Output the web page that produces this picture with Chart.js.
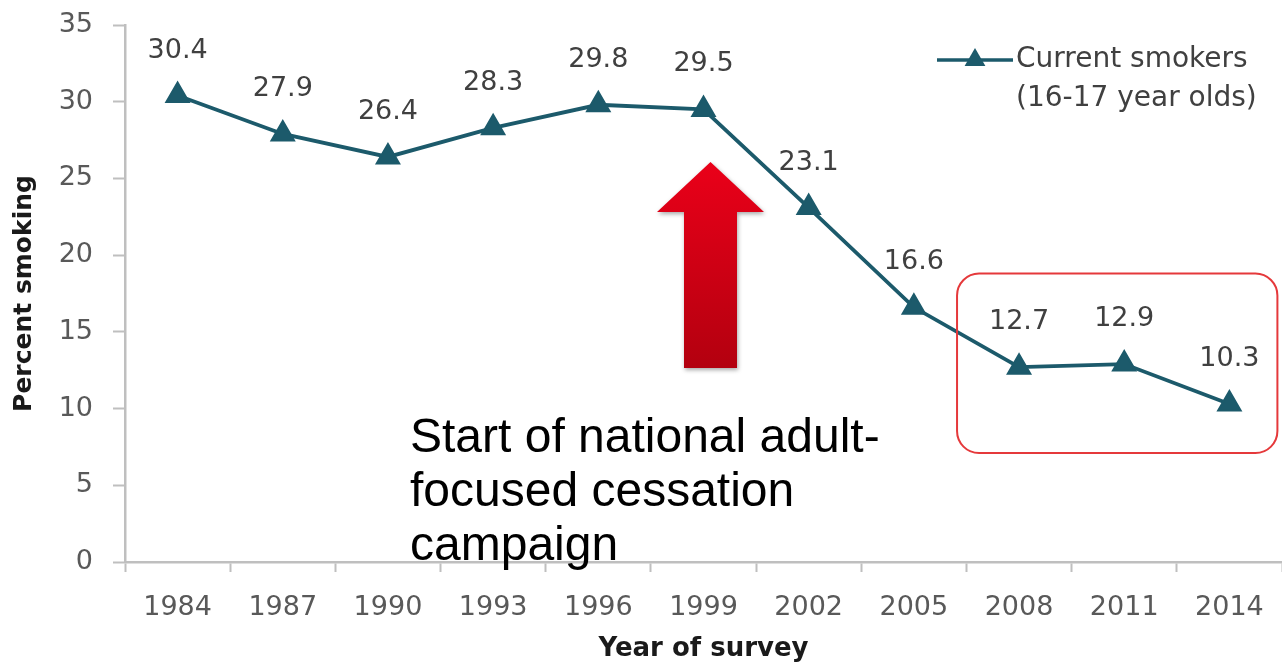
<!DOCTYPE html>
<html>
<head>
<meta charset="utf-8">
<title>Current smokers (16-17 year olds)</title>
<script src="https://cdn.jsdelivr.net/npm/chart.js@4.4.1/dist/chart.umd.min.js"></script>
<style>
  html, body { margin: 0; padding: 0; background: #ffffff; }
  #wrap { width: 1282px; height: 670px; position: relative; }
</style>
</head>
<body>
<div id="wrap"><canvas id="chart" width="1282" height="670"></canvas></div>
<script>
// Survey years and share of 16-17 year olds who currently smoke (%)
const surveyYears = ['1984', '1987', '1990', '1993', '1996', '1999', '2002', '2005', '2008', '2011', '2014'];
const currentSmokers = [30.4, 27.9, 26.4, 28.3, 29.8, 29.5, 23.1, 16.6, 12.7, 12.9, 10.3];
const yTickValues = [0, 5, 10, 15, 20, 25, 30, 35];
const seriesLabel = ['Current smokers', '(16-17 year olds)'];
const campaignNote = ['Start of national adult-', 'focused cessation', 'campaign'];
const campaignYear = '1999';
const highlightYears = ['2008', '2014'];

const LINE_COLOR = '#1c5a6b';
const TICK_COLOR = '#595959';
const LABEL_COLOR = '#404040';
const AXIS_COLOR = '#bfbfbf';
const FONT = '"DejaVu Sans", sans-serif';

function roundRect(ctx, x, y, w, h, r) {
  ctx.beginPath();
  ctx.moveTo(x + r, y);
  ctx.lineTo(x + w - r, y);
  ctx.arcTo(x + w, y, x + w, y + r, r);
  ctx.lineTo(x + w, y + h - r);
  ctx.arcTo(x + w, y + h, x + w - r, y + h, r);
  ctx.lineTo(x + r, y + h);
  ctx.arcTo(x, y + h, x, y + h - r, r);
  ctx.lineTo(x, y + r);
  ctx.arcTo(x, y, x + r, y, r);
  ctx.closePath();
}

// Value labels above each point, the legend, and the annotations
const decorations = {
  id: 'decorations',
  afterDatasetsDraw(chart) {
    const ctx = chart.ctx;
    const xs = chart.scales.x;
    const ys = chart.scales.y;
    const meta = chart.getDatasetMeta(0);

    // value labels
    ctx.save();
    ctx.font = '27px ' + FONT;
    ctx.fillStyle = LABEL_COLOR;
    ctx.textAlign = 'center';
    ctx.textBaseline = 'middle';
    meta.data.forEach((pt, i) => {
      ctx.fillText(currentSmokers[i].toFixed(1), pt.x, pt.y - 45);
    });
    ctx.restore();

    // legend
    ctx.save();
    const lx0 = 937, lx1 = 1013, ly = 60;
    ctx.strokeStyle = LINE_COLOR;
    ctx.lineWidth = 3.5;
    ctx.beginPath();
    ctx.moveTo(lx0, ly);
    ctx.lineTo(lx1, ly);
    ctx.stroke();
    ctx.fillStyle = LINE_COLOR;
    const r = 12, cx = (lx0 + lx1) / 2;
    ctx.beginPath();
    ctx.moveTo(cx, ly - r);
    ctx.lineTo(cx + r * 0.866, ly + r / 2);
    ctx.lineTo(cx - r * 0.866, ly + r / 2);
    ctx.closePath();
    ctx.fill();
    ctx.font = '28px ' + FONT;
    ctx.fillStyle = LABEL_COLOR;
    ctx.textAlign = 'left';
    ctx.textBaseline = 'middle';
    ctx.fillText(seriesLabel[0], 1016, 60);
    ctx.fillText(seriesLabel[1], 1016, 99);
    ctx.restore();

    // highlight box around the most recent surveys
    ctx.save();
    const hx0 = xs.getPixelForValue(surveyYears.indexOf(highlightYears[0])) - 62;
    const hx1 = xs.getPixelForValue(surveyYears.indexOf(highlightYears[1])) + 48;
    const hy0 = ys.getPixelForValue(18.8);
    const hy1 = ys.getPixelForValue(7.1);
    ctx.strokeStyle = '#e5393b';
    ctx.lineWidth = 2;
    roundRect(ctx, hx0, hy0, hx1 - hx0, hy1 - hy0, 22);
    ctx.stroke();
    ctx.restore();

    // upward block arrow marking the campaign start
    ctx.save();
    const ax = xs.getPixelForValue(surveyYears.indexOf(campaignYear)) + 7;
    const tipY = 162, headY = 212, baseY = 368;
    const grad = ctx.createLinearGradient(0, tipY, 0, baseY);
    grad.addColorStop(0, '#ea0019');
    grad.addColorStop(1, '#b3000f');
    ctx.shadowColor = 'rgba(0,0,0,0.35)';
    ctx.shadowBlur = 4;
    ctx.shadowOffsetX = 1;
    ctx.shadowOffsetY = 2;
    ctx.fillStyle = grad;
    ctx.beginPath();
    ctx.moveTo(ax, tipY);
    ctx.lineTo(ax + 53.5, headY);
    ctx.lineTo(ax + 26.5, headY);
    ctx.lineTo(ax + 26.5, baseY);
    ctx.lineTo(ax - 26.5, baseY);
    ctx.lineTo(ax - 26.5, headY);
    ctx.lineTo(ax - 53.5, headY);
    ctx.closePath();
    ctx.fill();
    ctx.restore();

    // campaign note
    ctx.save();
    ctx.font = '48px "Liberation Sans", Arial, sans-serif';
    ctx.fillStyle = '#000000';
    ctx.textAlign = 'left';
    ctx.textBaseline = 'alphabetic';
    campaignNote.forEach((line, i) => {
      ctx.fillText(line, 410, 452 + i * 54);
    });
    ctx.restore();
  }
};

new Chart(document.getElementById('chart'), {
  type: 'line',
  data: {
    labels: surveyYears,
    datasets: [{
      label: seriesLabel.join(' '),
      data: currentSmokers,
      borderColor: LINE_COLOR,
      backgroundColor: LINE_COLOR,
      borderWidth: 3.8,
      tension: 0,
      pointStyle: 'triangle',
      pointRadius: 13,
      pointBorderWidth: 2,
      pointBackgroundColor: LINE_COLOR,
      pointBorderColor: LINE_COLOR,
      fill: false,
      clip: false
    }]
  },
  options: {
    responsive: false,
    animation: false,
    layout: { autoPadding: false, padding: { top: 25, right: 0, bottom: 0, left: 0 } },
    plugins: {
      legend: { display: false },
      tooltip: { enabled: false }
    },
    scales: {
      x: {
        type: 'category',
        offset: true,
        grid: {
          display: true,
          drawOnChartArea: false,
          offset: true,
          tickLength: 10,
          tickWidth: 2,
          tickColor: AXIS_COLOR
        },
        border: { display: true, color: AXIS_COLOR, width: 2.5 },
        ticks: {
          color: TICK_COLOR,
          font: { family: FONT, size: 27 },
          padding: 20,
          maxRotation: 0,
          autoSkip: false
        },
        title: {
          display: true,
          text: 'Year of survey',
          color: '#1a1a1a',
          font: { family: FONT, size: 26, weight: 'bold' },
          padding: { top: 4, bottom: 5 }
        },
        afterFit(scale) {
          scale.height = 108;
          scale.paddingLeft = 0;
          scale.paddingRight = 0;
        }
      },
      y: {
        min: 0,
        max: 35,
        afterBuildTicks(scale) {
          scale.ticks = yTickValues.map(v => ({ value: v }));
        },
        grid: {
          display: true,
          drawOnChartArea: false,
          tickLength: 12,
          tickWidth: 2,
          tickColor: AXIS_COLOR
        },
        border: { display: true, color: AXIS_COLOR, width: 2.5 },
        ticks: {
          color: TICK_COLOR,
          font: { family: FONT, size: 27 },
          padding: 20
        },
        title: {
          display: true,
          text: 'Percent smoking',
          color: '#1a1a1a',
          font: { family: FONT, size: 25, weight: 'bold' },
          padding: { top: 9, bottom: 4 }
        },
        afterFit(scale) {
          scale.width = 125;
          scale.paddingTop = 0;
          scale.paddingBottom = 0;
        }
      }
    }
  },
  plugins: [decorations]
});
</script>
</body>
</html>
